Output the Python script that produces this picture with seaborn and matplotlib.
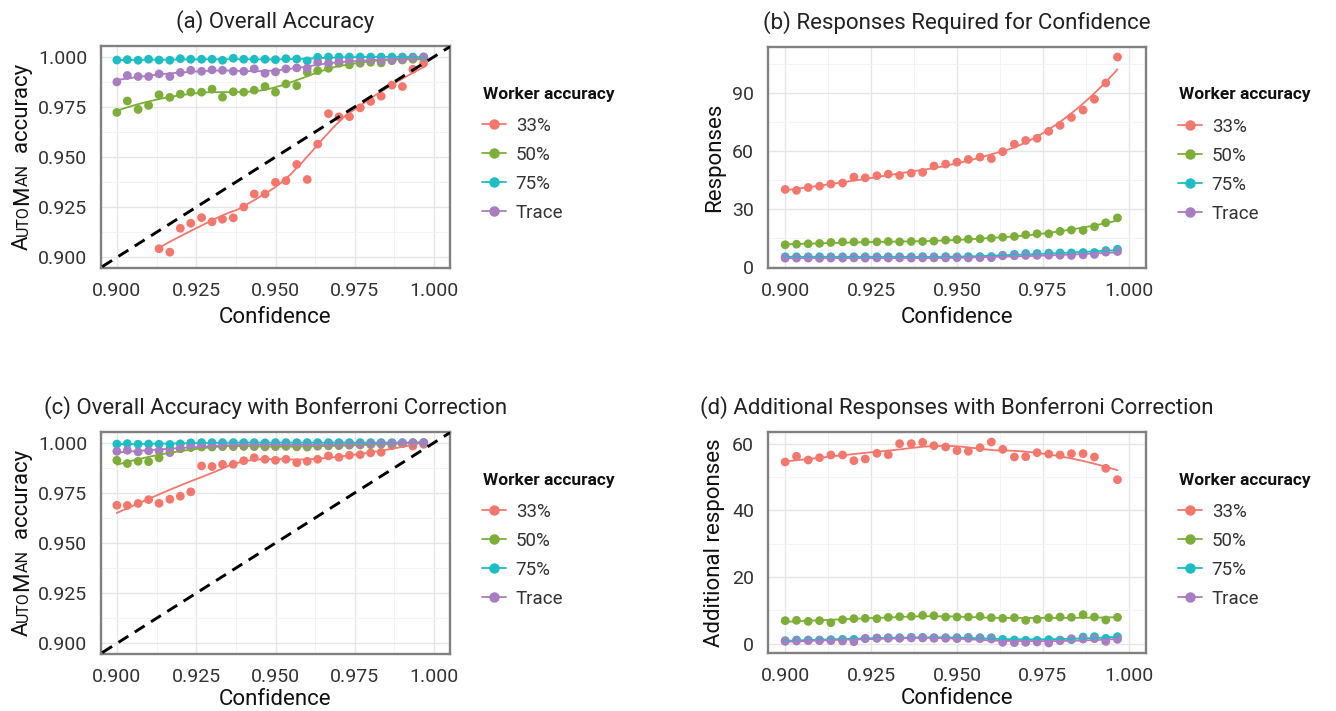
import numpy as np
import pandas as pd
import seaborn as sns
import matplotlib
matplotlib.use("Agg")
import matplotlib.pyplot as plt
from matplotlib.lines import Line2D
from matplotlib.ticker import MultipleLocator, FormatStrFormatter

nan = np.nan

conf = [0.9000, 0.9033, 0.9067, 0.9100, 0.9133, 0.9167, 0.9200, 0.9233, 0.9267, 0.9300,
        0.9333, 0.9367, 0.9400, 0.9433, 0.9467, 0.9500, 0.9533, 0.9567, 0.9600, 0.9633,
        0.9667, 0.9700, 0.9733, 0.9767, 0.9800, 0.9833, 0.9867, 0.9900, 0.9933, 0.9967]
groups = ["33%", "50%", "75%", "Trace"]
colors = ["#F4776D", "#7DAE3A", "#1DBDC4", "#A87DC2"]

# (a) overall accuracy
a_33 = [nan, nan, nan, nan, 0.9043, 0.9026, 0.9145, 0.9170, 0.9198, 0.9177,
        0.9190, 0.9197, 0.9251, 0.9316, 0.9316, 0.9374, 0.9382, 0.9463, 0.9388, 0.9564,
        0.9716, 0.9700, 0.9701, 0.9745, 0.9777, 0.9803, 0.9858, 0.9851, 0.9937, 0.9967]
a_50 = [0.9722, 0.9779, 0.9737, 0.9757, 0.9810, 0.9797, 0.9813, 0.9823, 0.9823, 0.9838,
        0.9798, 0.9825, 0.9823, 0.9833, 0.9851, 0.9823, 0.9864, 0.9855, 0.9922, 0.9930,
        0.9942, 0.9967, 0.9959, 0.9967, 0.9972, 0.9969, 0.9980, 0.9983, 0.9987, 0.9995]
a_75 = [0.9983, 0.9985, 0.9982, 0.9987, 0.9983, 0.9982, 0.9990, 0.9987, 0.9987, 0.9987,
        0.9982, 0.9992, 0.9987, 0.9987, 0.9987, 0.9985, 0.9990, 0.9988, 0.9979, 0.9997,
        0.9998, 0.9998, 0.9998, 0.9998, 0.9998, 0.9998, 0.9998, 0.9998, 0.9998, 0.9999]
a_tr = [0.9874, 0.9906, 0.9901, 0.9901, 0.9914, 0.9901, 0.9921, 0.9932, 0.9927, 0.9934,
        0.9932, 0.9927, 0.9927, 0.9939, 0.9917, 0.9924, 0.9939, 0.9944, 0.9942, 0.9972,
        0.9967, 0.9975, 0.9977, 0.9977, 0.9982, 0.9979, 0.9983, 0.9987, 0.9992, 0.9997]

# (b) responses required
b_33 = [40.0, 39.5, 41.0, 41.7, 42.8, 43.3, 46.4, 46.0, 47.1, 47.9,
        47.2, 48.4, 48.8, 52.1, 53.1, 54.1, 55.5, 56.7, 55.9, 59.5,
        63.4, 65.3, 66.4, 70.0, 73.1, 77.2, 81.0, 86.6, 95.0, 108.4]
b_50 = [11.4, 11.7, 11.9, 12.1, 12.6, 12.9, 12.9, 12.9, 12.9, 13.1,
        12.9, 13.1, 13.1, 13.3, 13.8, 14.1, 14.3, 14.5, 14.8, 15.3,
        15.7, 16.6, 17.1, 17.1, 18.3, 19.0, 18.8, 20.7, 22.8, 25.3]
b_75 = [5.2, 5.2, 5.2, 5.2, 5.2, 5.2, 5.2, 5.2, 5.2, 5.2,
        5.2, 5.2, 5.3, 5.2, 5.3, 5.2, 5.3, 5.3, 5.3, 6.0,
        6.5, 6.9, 6.9, 7.1, 7.2, 7.2, 7.4, 7.4, 8.4, 9.1]
b_tr = [4.5, 4.5, 4.5, 4.4, 4.5, 4.5, 4.6, 4.5, 4.6, 4.5,
        4.6, 4.5, 4.6, 4.6, 4.6, 4.7, 4.6, 4.7, 4.7, 5.7,
        5.7, 5.9, 5.9, 6.0, 6.0, 5.9, 6.2, 6.4, 7.6, 7.9]

# (c) accuracy with Bonferroni correction
c_33 = [0.9688, 0.9687, 0.9697, 0.9716, 0.9698, 0.9718, 0.9733, 0.9755, 0.9884, 0.9881,
        0.9892, 0.9892, 0.9910, 0.9925, 0.9917, 0.9912, 0.9917, 0.9900, 0.9907, 0.9917,
        0.9934, 0.9927, 0.9937, 0.9940, 0.9949, 0.9952, 0.9985, 0.9995, 0.9983, 0.9992]
c_50 = [0.9912, 0.9896, 0.9907, 0.9905, 0.9924, 0.9968, 0.9970, 0.9975, 0.9978, 0.9978,
        0.9980, 0.9980, 0.9981, 0.9980, 0.9979, 0.9980, 0.9981, 0.9979, 0.9978, 0.9982,
        0.9984, 0.9985, 0.9987, 0.9988, 0.9990, 0.9992, 0.9994, 0.9996, 0.9998, 1.0000]
c_75 = [0.9993, 0.9995, 0.9992, 0.9993, 0.9992, 0.9991, 0.9994, 0.9999, 1.0000, 1.0000,
        1.0000, 1.0000, 1.0000, 1.0000, 0.9999, 1.0000, 1.0000, 1.0000, 1.0000, 1.0000,
        1.0000, 1.0000, 1.0000, 1.0000, 1.0000, 1.0000, 1.0000, 1.0000, 1.0000, 1.0000]
c_tr = [0.9957, 0.9962, 0.9954, 0.9959, 0.9959, 0.9950, 0.9970, 0.9985, 0.9986, 0.9987,
        0.9988, 0.9988, 0.9988, 0.9988, 0.9988, 0.9988, 0.9989, 0.9988, 0.9988, 0.9988,
        0.9990, 0.9990, 0.9991, 0.9992, 0.9994, 0.9995, 0.9997, 0.9998, 0.9999, 1.0000]

# (d) additional responses with Bonferroni correction
d_33 = [54.5, 56.2, 55.1, 55.8, 56.6, 56.6, 54.9, 55.4, 57.1, 56.7,
        60.0, 60.0, 60.4, 59.4, 59.0, 57.9, 57.7, 58.8, 60.5, 58.3,
        56.0, 56.1, 57.3, 56.9, 56.6, 57.0, 57.0, 56.0, 52.6, 49.2]
d_50 = [6.9, 7.0, 6.7, 6.9, 6.3, 7.2, 7.5, 7.6, 7.5, 7.9,
        8.1, 8.2, 8.5, 8.4, 8.0, 8.0, 8.0, 8.2, 7.8, 7.6,
        7.8, 7.0, 7.3, 7.8, 8.0, 7.9, 8.7, 8.0, 7.1, 7.9]
d_75 = [0.9, 1.1, 1.1, 1.1, 1.2, 1.3, 1.3, 1.5, 1.7, 1.8,
        1.8, 1.9, 1.9, 1.8, 1.8, 1.8, 1.9, 1.8, 1.8, 1.3,
        1.1, 1.0, 1.0, 1.2, 1.1, 1.2, 2.0, 2.1, 1.6, 2.1]
d_tr = [0.7, 0.8, 0.9, 0.9, 0.9, 0.8, 0.6, 1.6, 1.6, 1.6,
        1.6, 1.7, 1.7, 1.6, 1.6, 1.5, 1.6, 1.5, 1.4, 0.4,
        0.3, 0.4, 0.5, 0.2, 0.9, 1.5, 1.4, 1.5, 0.7, 1.3]


def loess(x, y, span=0.75, n=100):
    # local quadratic fit with tricube weights
    q = int(np.ceil(span * len(x)))
    xs = np.linspace(x.min(), x.max(), n)
    ys = []
    for x0 in xs:
        d = np.abs(x - x0)
        h = np.sort(d)[q - 1] * 1.0001
        w = np.clip(1 - (d / h) ** 3, 0, None) ** 3
        keep = w > 0
        c = np.polyfit(x[keep] - x0, y[keep], 2, w=np.sqrt(w[keep]))
        ys.append(c[-1])
    return xs, np.array(ys)


def make_frame(series):
    rows = []
    for g, vals in zip(groups, series):
        for x, v in zip(conf, vals):
            if not np.isnan(v):
                rows.append((x, v, g))
    return pd.DataFrame(rows, columns=["conf", "value", "group"])


def smooth_frame(df, span):
    parts = []
    for g in groups:
        sub = df[df.group == g]
        xs, ys = loess(sub.conf.values, sub.value.values, span)
        parts.append(pd.DataFrame({"conf": xs, "value": ys, "group": g}))
    return pd.concat(parts)


sns.set_theme(style="white")
plt.rcParams["font.family"] = ["Roboto", "DejaVu Sans"]

fig = plt.figure(figsize=(13.36, 7.11), dpi=100)
W, H = 1336, 711


def px_axes(l, t, r, b):
    return fig.add_axes([l / W, 1 - b / H, (r - l) / W, (b - t) / H])


panels = [
    dict(series=[a_33, a_50, a_75, a_tr], box=(101, 46, 450, 268), title="(a) Overall Accuracy",
         ylim=(0.8947, 1.0053), step=0.025, diag=True, span=0.6, fmt="%.3f", xpad=5),
    dict(series=[b_33, b_50, b_75, b_tr], box=(768, 47, 1146, 268), title="(b) Responses Required for Confidence",
         ylim=(-0.6, 113.6), step=30, diag=False, span=0.75, fmt="%d", ylabel="Responses", xpad=5),
    dict(series=[c_33, c_50, c_75, c_tr], box=(101, 432, 450, 654), title="(c) Overall Accuracy with Bonferroni Correction",
         ylim=(0.8947, 1.0053), step=0.025, diag=True, span=0.75, fmt="%.3f", xpad=2),
    dict(series=[d_33, d_50, d_75, d_tr], box=(768, 432, 1146, 653), title="(d) Additional Responses with Bonferroni Correction",
         ylim=(-2.8, 63.5), step=20, diag=False, span=0.75, fmt="%d", ylabel="Additional responses", xpad=2),
]

pal = dict(zip(groups, colors))
for p in panels:
    ax = px_axes(*p["box"])
    df = make_frame(p["series"])
    sm = smooth_frame(df, p["span"])
    sns.lineplot(data=sm, x="conf", y="value", hue="group", palette=pal, lw=1.3,
                 legend=False, ax=ax, zorder=3)
    sns.scatterplot(data=df, x="conf", y="value", hue="group", palette=pal, s=40,
                    edgecolor="none", legend=False, ax=ax, zorder=2)
    if p["diag"]:
        ax.plot([0.88, 1.02], [0.88, 1.02], color="black", ls=(0, (4, 2.6)), lw=2.1, zorder=4)
    ax.set_xlim(0.895, 1.005)
    ax.set_ylim(*p["ylim"])
    ax.xaxis.set_major_locator(MultipleLocator(0.025))
    ax.xaxis.set_minor_locator(MultipleLocator(0.0125))
    ax.yaxis.set_major_locator(MultipleLocator(p["step"]))
    ax.yaxis.set_minor_locator(MultipleLocator(p["step"] / 2))
    ax.xaxis.set_major_formatter(FormatStrFormatter("%.3f"))
    ax.yaxis.set_major_formatter(FormatStrFormatter(p["fmt"]))
    ax.grid(which="major", color="#e6e6e6", lw=1.0)
    ax.grid(which="minor", color="#f3f3f3", lw=0.7)
    ax.set_axisbelow(True)
    ax.tick_params(which="major", length=7, width=1.6, color="#1a1a1a", labelsize=14,
                   labelcolor="#333333", pad=3)
    ax.tick_params(which="minor", length=0)
    for s in ax.spines.values():
        s.set_color("#808080")
        s.set_linewidth(1.7)
    ax.set_xlabel("Confidence", fontsize=16, labelpad=p["xpad"], color="#111111")
    ax.set_ylabel(p.get("ylabel", ""), fontsize=16, labelpad=5, color="#111111")
    ax.set_title(p["title"], fontsize=16, pad=13, color="#222222")

    l, t, r, b = p["box"]
    fig.text((r + 33) / W, 1 - (t + 48) / H, "Worker accuracy", fontsize=12.5,
             fontweight="bold", color="#111111", ha="left", va="center")
    handles = [Line2D([], [], color=c, marker="o", markersize=6.5, lw=1.3) for c in colors]
    leg = fig.legend(handles, groups, loc="upper left",
                     bbox_to_anchor=((r + 32) / W, 1 - (t + 71) / H), frameon=False,
                     fontsize=13.5, handlelength=1.3, handletextpad=0.5,
                     labelspacing=0.58, borderaxespad=0, borderpad=0)
    for txt in leg.get_texts():
        txt.set_color("#333333")

# small-caps y label "AutoMan accuracy" for the accuracy panels
renderer = fig.canvas.get_renderer()
pieces = [("A", 16), ("UTO", 11.5), ("M", 16), ("AN", 11.5), ("  accuracy", 16)]
for (l, t, r, b) in [(101, 46, 450, 268), (101, 432, 450, 654)]:
    widths = []
    for s, fs in pieces:
        tmp = fig.text(0, 0, s, fontsize=fs)
        widths.append(tmp.get_window_extent(renderer).width)
        tmp.remove()
    y0 = (t + b) / 2 + sum(widths) / 2
    xb = 28
    for (s, fs), w in zip(pieces, widths):
        fig.text(xb / W, 1 - y0 / H, s, fontsize=fs, rotation=90, rotation_mode="anchor",
                 ha="left", va="baseline", color="#111111")
        y0 -= w

fig.savefig("out.png", dpi=100)
